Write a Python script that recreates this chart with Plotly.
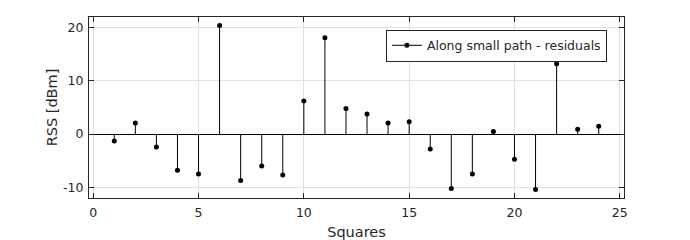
import plotly.graph_objects as go

squares = list(range(1, 25))
residuals = [-1.3, 2.1, -2.4, -6.8, -7.5, 20.4, -8.7, -6.0, -7.7, 6.2, 18.1, 4.8,
             3.8, 2.1, 2.3, -2.8, -10.2, -7.5, 0.5, -4.7, -10.4, 13.2, 0.9, 1.5]
legend_name = "Along small path - residuals"
x_ticks = [0, 5, 10, 15, 20, 25]
y_ticks = [-10, 0, 10, 20]
y_tick_labels = ["-10", "0", "10", "20"]

stem_x, stem_y = [], []
for xv, yv in zip(squares, residuals):
    stem_x += [xv, xv, None]
    stem_y += [0, yv, None]

fig = go.Figure()
fig.add_trace(go.Scatter(x=stem_x, y=stem_y, mode="lines",
                         line=dict(color="black", width=1), showlegend=False,
                         hoverinfo="skip"))
fig.add_trace(go.Scatter(x=squares, y=residuals, mode="markers",
                         marker=dict(color="black", size=5), showlegend=False))
fig.add_trace(go.Scatter(x=[None], y=[None], mode="lines+markers", name=legend_name,
                         line=dict(color="black", width=1),
                         marker=dict(color="black", size=5)))

axis_common = dict(showline=True, linecolor="#262626", linewidth=1, mirror="ticks",
                   ticks="inside", ticklen=5, tickcolor="#262626",
                   showgrid=True, gridcolor="#e0e0e0", gridwidth=1,
                   automargin=False,
                   tickfont=dict(size=12.5, color="#262626"))

fig.update_layout(
    width=690, height=240,
    margin=dict(l=89, r=66, t=17, b=42),
    paper_bgcolor="white", plot_bgcolor="white",
    font=dict(family="DejaVu Sans", color="#262626"),
    xaxis=dict(range=[-0.2, 25.2], tickvals=x_ticks,
               ticklabelstandoff=3,
               title=dict(text="Squares", font=dict(size=14.5), standoff=8),
               zeroline=False, **axis_common),
    yaxis=dict(range=[-12, 22], tickvals=y_ticks, ticktext=y_tick_labels,
               ticklabelstandoff=2,
               title=dict(text="RSS [dBm]", font=dict(size=14.5), standoff=2),
               zeroline=True, zerolinecolor="black", zerolinewidth=1,
               **axis_common),
    legend=dict(x=0.555, y=0.93, xanchor="left", yanchor="top",
                bordercolor="#262626", borderwidth=1, bgcolor="white",
                font=dict(size=12.5, color="#262626"),
                tracegroupgap=0, itemwidth=30),
    showlegend=True,
)

fig.write_html("out.html")
